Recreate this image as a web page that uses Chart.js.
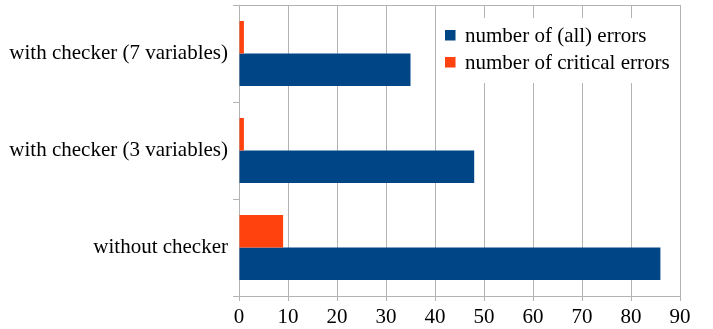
<!DOCTYPE html>
<html>
<head>
<meta charset="utf-8">
<script src="https://cdn.jsdelivr.net/npm/chart.js@4/dist/chart.umd.min.js"></script>
<style>
  html, body { margin: 0; padding: 0; background: #ffffff; }
  #wrap { width: 713px; height: 329px; }
</style>
</head>
<body>
<div id="wrap"><canvas id="chart" width="713" height="329"></canvas></div>
<script>
// Configurations, listed top to bottom
const categories = [
  'with checker (7 variables)',
  'with checker (3 variables)',
  'without checker'
];
const allErrors = [35, 48, 86];
const criticalErrors = [1, 1, 9];
const xTicks = [0, 10, 20, 30, 40, 50, 60, 70, 80, 90];

const seriesNames = ['number of (all) errors', 'number of critical errors'];
const seriesColors = ['#004586', '#ff420e'];

const FONT = "'Liberation Serif', 'Times New Roman', serif";
const GRID = '#b3b3b3';

// Legend box drawn inside the plot area, top right
const insideLegend = {
  id: 'insideLegend',
  afterDraw(chart) {
    const { ctx, chartArea } = chart;
    const boxLeft = chartArea.right - 243;
    const boxTop = chartArea.top + 13;
    ctx.save();
    ctx.fillStyle = '#ffffff';
    ctx.fillRect(boxLeft, boxTop, 242, 65);
    ctx.font = '21px ' + FONT;
    ctx.textBaseline = 'middle';
    seriesNames.forEach((name, i) => {
      const cy = boxTop + 17 + i * 27;
      ctx.fillStyle = seriesColors[i];
      ctx.fillRect(boxLeft + 8, cy - 5, 10.5, 10.5);
      ctx.fillStyle = '#000000';
      ctx.fillText(name, boxLeft + 28, cy + 1);
    });
    ctx.restore();
  }
};

new Chart(document.getElementById('chart'), {
  type: 'bar',
  data: {
    labels: categories,
    datasets: [
      {
        label: seriesNames[1],
        data: criticalErrors,
        backgroundColor: seriesColors[1],
        categoryPercentage: 0.67,
        barPercentage: 1.0
      },
      {
        label: seriesNames[0],
        data: allErrors,
        backgroundColor: seriesColors[0],
        categoryPercentage: 0.67,
        barPercentage: 1.0
      }
    ]
  },
  options: {
    indexAxis: 'y',
    responsive: false,
    animation: false,
    devicePixelRatio: 1,
    layout: { padding: { top: 5, right: 33, left: 0, bottom: 0 } },
    plugins: {
      legend: { display: false },
      tooltip: { enabled: false }
    },
    scales: {
      x: {
        min: 0,
        max: 90,
        afterBuildTicks(scale) {
          scale.ticks = xTicks.map(v => ({ value: v }));
        },
        afterFit(scale) {
          scale.height = 33;
          scale.paddingLeft = 0;
          scale.paddingRight = 0;
        },
        grid: {
          color: GRID,
          tickColor: GRID,
          tickLength: 5,
          lineWidth: 1
        },
        border: { color: GRID, width: 1 },
        ticks: {
          color: '#000000',
          padding: 4,
          maxRotation: 0,
          font: { family: FONT, size: 21 }
        }
      },
      y: {
        afterFit(scale) {
          scale.width = 239;
          scale.paddingTop = 0;
          scale.paddingBottom = 0;
        },
        grid: {
          offset: true,
          drawOnChartArea: true,
          color: ctx => (ctx.index === 0 ? GRID : 'rgba(0,0,0,0)'),
          tickColor: GRID,
          tickLength: 6,
          lineWidth: 1
        },
        border: { color: GRID, width: 1 },
        ticks: {
          color: '#000000',
          padding: 5,
          font: { family: FONT, size: 21 }
        }
      }
    }
  },
  plugins: [insideLegend]
});
</script>
</body>
</html>
